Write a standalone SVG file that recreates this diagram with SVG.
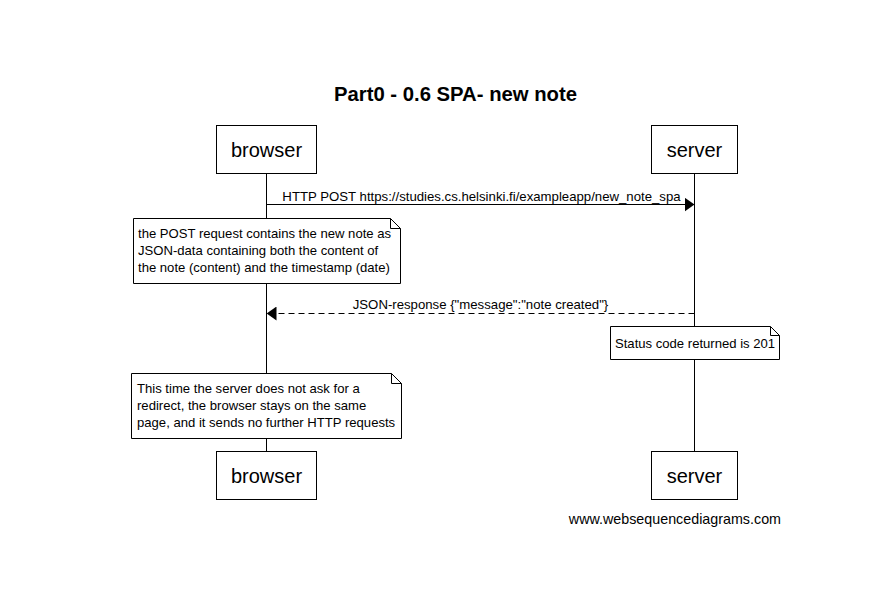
<svg xmlns="http://www.w3.org/2000/svg" width="869" height="606" viewBox="0 0 869 606">
<style>
text{font-family:"Liberation Sans",Arial,sans-serif;fill:#000}
.title{font-size:20.3px;font-weight:bold;text-anchor:middle}
.actor rect{fill:#fff;stroke:#000;stroke-width:1}
.actor text{font-size:20px;text-anchor:middle}
.note path{fill:#fff;stroke:#000;stroke-width:1}
.note text{font-size:13.1px}
.life{stroke:#000;stroke-width:1}
.msg{stroke:#000;stroke-width:1;fill:none}
.dash{stroke-dasharray:6,4}
.lbl{font-size:13.2px;text-anchor:middle}
.foot{font-size:14.3px;text-anchor:end}
</style>
<defs>
<marker id="ah" viewBox="0 0 10 14" refX="10" refY="7" markerWidth="10" markerHeight="14" markerUnits="userSpaceOnUse" orient="auto">
<path d="M0,0 L10,7 L0,14 Z" fill="#000"/>
</marker>
</defs>
<rect width="869" height="606" fill="#fff"/>
<text class="title" x="455.5" y="101">Part0 - 0.6 SPA- new note</text>
<g id="lifelines">
<line class="life" x1="266.5" y1="173.5" x2="266.5" y2="451.5"/>
<line class="life" x1="694.5" y1="173.5" x2="694.5" y2="451.5"/>
</g>
<g id="connectors">
<line class="msg" x1="266.5" y1="204.5" x2="694.5" y2="204.5" marker-end="url(#ah)"/>
<text class="lbl" x="481.5" y="201">HTTP POST https://studies.cs.helsinki.fi/exampleapp/new_note_spa</text>
<line class="msg dash" x1="694.5" y1="313.5" x2="266.5" y2="313.5" marker-end="url(#ah)"/>
<text class="lbl" x="480.5" y="309">JSON-response {"message":"note created"}</text>
</g>
<g id="browser-top" class="actor">
<rect x="216.5" y="125.5" width="100" height="48"/>
<text x="266.5" y="157">browser</text>
</g>
<g id="server-top" class="actor">
<rect x="651.5" y="125.5" width="86" height="48"/>
<text x="694.5" y="157">server</text>
</g>
<g id="note1" class="note">
<path d="M133.5,218.5 H390.5 L400.5,228.5 V283.5 H133.5 Z M390.5,218.5 V228.5 H400.5"/>
<text x="138" y="238">the POST request contains the new note as</text>
<text x="138" y="255">JSON-data containing both the content of</text>
<text x="138" y="272">the note (content) and the timestamp (date)</text>
</g>
<g id="note2" class="note">
<path d="M610.5,326.5 H770.5 L779.5,335.5 V359.5 H610.5 Z M770.5,326.5 V335.5 H779.5"/>
<text x="615" y="348">Status code returned is 201</text>
</g>
<g id="note3" class="note">
<path d="M131.5,373.5 H391.5 L401.5,383.5 V438.5 H131.5 Z M391.5,373.5 V383.5 H401.5"/>
<text x="137" y="393">This time the server does not ask for a</text>
<text x="137" y="410">redirect, the browser stays on the same</text>
<text x="137" y="427">page, and it sends no further HTTP requests</text>
</g>
<g id="browser-bottom" class="actor">
<rect x="216.5" y="451.5" width="100" height="48"/>
<text x="266.5" y="483">browser</text>
</g>
<g id="server-bottom" class="actor">
<rect x="651.5" y="451.5" width="86" height="48"/>
<text x="694.5" y="483">server</text>
</g>
<text class="foot" x="781" y="524">www.websequencediagrams.com</text>
</svg>
